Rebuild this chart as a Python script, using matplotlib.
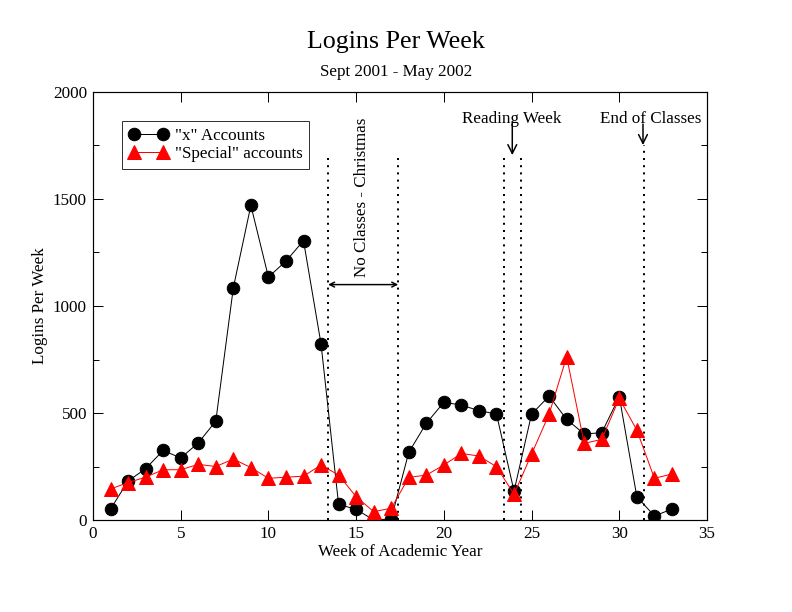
import matplotlib.pyplot as plt
from matplotlib.ticker import MultipleLocator

plt.rcParams['font.family'] = ['Liberation Serif', 'DejaVu Serif']

# 数据：每周登录次数
weeks = list(range(1, 34))
x_accounts = [51, 182, 240, 325, 290, 360, 462, 1085, 1470, 1135, 1210, 1305, 822,
              73, 50, 0, 5, 316, 452, 550, 537, 511, 495, 135, 495, 579, 470,
              402, 408, 576, 109, 19, 51]
special = [145, 175, 200, 235, 235, 260, 250, 285, 245, 195, 200, 205, 257,
           210, 109, 39, 55, 199, 210, 257, 311, 299, 249, 120, 308, 495, 763,
           358, 377, 568, 420, 195, 215]

# 标注用的竖线位置
break_lines = [13.4, 17.4, 23.4, 24.4, 31.4]
break_tops = [1705, 1705, 1710, 1710, 1750]

fig = plt.figure(figsize=(11, 8.5), dpi=72)
ax = fig.add_axes([0.1174, 0.1503, 0.7753, 0.6994])

ax.plot(weeks, x_accounts, color='black', lw=1, marker='o', ms=12.5,
        label='"x" Accounts', zorder=3)
ax.plot(weeks, special, color='red', lw=1, marker='^', ms=14,
        label='"Special" accounts', zorder=4)

for xv, top in zip(break_lines, break_tops):
    ax.plot([xv, xv], [0, top], color='black', lw=2, linestyle=(0, (1, 2.6)), zorder=2)

# 圣诞假期
ax.annotate('', xy=(13.4, 1100), xytext=(17.4, 1100),
            arrowprops=dict(arrowstyle='<->', color='black', lw=1.5,
                            shrinkA=0, shrinkB=0, mutation_scale=12))
ax.text(15.35, 1510, 'No Classes - Christmas', rotation=90, ha='center', va='center',
        fontsize=17)

# 阅读周 / 课程结束
ax.annotate('', xy=(23.9, 1705), xytext=(23.9, 1860),
            arrowprops=dict(arrowstyle='->', color='black', lw=1.5,
                            shrinkA=0, shrinkB=0, mutation_scale=22))
ax.text(23.85, 1872, 'Reading Week', ha='center', va='center', fontsize=17)
ax.annotate('', xy=(31.35, 1752), xytext=(31.35, 1850),
            arrowprops=dict(arrowstyle='->', color='black', lw=1.5,
                            shrinkA=0, shrinkB=0, mutation_scale=22))
ax.text(31.8, 1872, 'End of Classes', ha='center', va='center', fontsize=17)

ax.set_xlim(0, 35)
ax.set_ylim(0, 2000)
ax.xaxis.set_major_locator(MultipleLocator(5))
ax.yaxis.set_major_locator(MultipleLocator(500))
ax.yaxis.set_minor_locator(MultipleLocator(250))
ax.tick_params(which='both', direction='in', top=True, right=True, labelsize=17,
               width=1)
ax.tick_params(which='major', length=10, pad=6)
ax.tick_params(which='minor', length=6)
for s in ax.spines.values():
    s.set_linewidth(1.2)

ax.set_xlabel('Week of Academic Year', fontsize=17, labelpad=2)
ax.set_ylabel('Logins Per Week', fontsize=17, labelpad=5)

leg = ax.legend(loc='upper left', bbox_to_anchor=(0.047, 0.932), numpoints=2,
                fontsize=17, frameon=True, fancybox=False, edgecolor='black',
                borderpad=0.4, labelspacing=0.12, handlelength=2.3,
                handletextpad=0.4, borderaxespad=0)
leg.get_frame().set_linewidth(1)

fig.text(0.5, 1 - 42 / 612, 'Logins Per Week', ha='center', va='center', fontsize=26)
fig.text(0.5, 1 - 72 / 612, 'Sept 2001 - May 2002', ha='center', va='center', fontsize=17)

fig.savefig('out.png', dpi=72)
